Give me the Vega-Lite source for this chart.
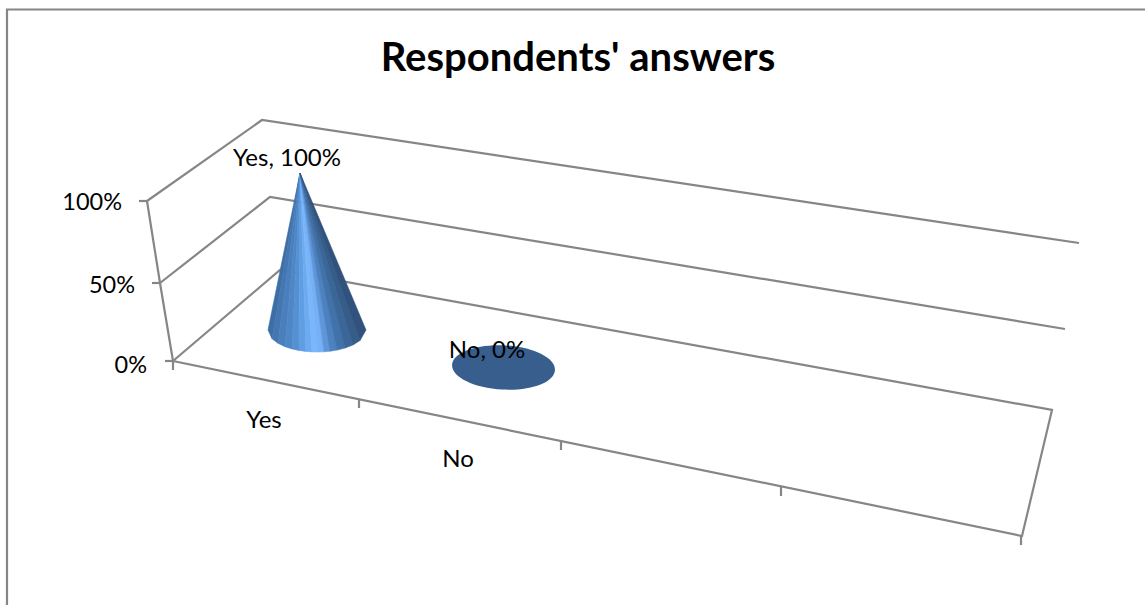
{
"$schema":"https://vega.github.io/schema/vega-lite/v6.json",
"width":1145,"height":605,"padding":0,
"autosize":"none",
"background":"#ffffff",
"config":{"view":{"stroke":null},"font":"Lato"},
"datasets":{
"frame":[
{"seg":"border","sx":7,"sy":605,"o":1},{"seg":"border","sx":7,"sy":9.5,"o":2},{"seg":"border","sx":1145,"sy":9.5,"o":3},
{"seg":"wall100","sx":147,"sy":201,"o":1},{"seg":"wall100","sx":262,"sy":120,"o":2},{"seg":"wall100","sx":1079,"sy":243,"o":3},
{"seg":"wall50","sx":160,"sy":283,"o":1},{"seg":"wall50","sx":270,"sy":197,"o":2},{"seg":"wall50","sx":1065,"sy":329,"o":3},
{"seg":"floor","sx":173,"sy":361,"o":1},{"seg":"floor","sx":280,"sy":270,"o":2},{"seg":"floor","sx":1052,"sy":410,"o":3},{"seg":"floor","sx":1022,"sy":536,"o":4},{"seg":"floor","sx":173,"sy":361,"o":5},
{"seg":"vaxis","sx":147,"sy":201,"o":1},{"seg":"vaxis","sx":160,"sy":283,"o":2},{"seg":"vaxis","sx":173,"sy":361,"o":3},
{"seg":"t100","sx":139,"sy":201,"o":1},{"seg":"t100","sx":147,"sy":201,"o":2},
{"seg":"t50","sx":152,"sy":283,"o":1},{"seg":"t50","sx":160,"sy":283,"o":2},
{"seg":"t0","sx":165,"sy":361,"o":1},{"seg":"t0","sx":173,"sy":361,"o":2},
{"seg":"c0","sx":173,"sy":361,"o":1},{"seg":"c0","sx":173,"sy":370,"o":2},
{"seg":"c1","sx":359,"sy":399,"o":1},{"seg":"c1","sx":359,"sy":408,"o":2},
{"seg":"c2","sx":561,"sy":441,"o":1},{"seg":"c2","sx":561,"sy":450,"o":2},
{"seg":"c3","sx":781,"sy":487,"o":1},{"seg":"c3","sx":781,"sy":496,"o":2},
{"seg":"c4","sx":1021,"sy":536,"o":1},{"seg":"c4","sx":1021,"sy":545,"o":2}
],
"cone":[
{"s":1,"sx":300,"sy":173,"o":1},{"s":1,"sx":268,"sy":330,"o":2},{"s":1,"sx":272,"sy":338.7,"o":3},
{"s":2,"sx":300,"sy":173,"o":1},{"s":2,"sx":272,"sy":338.7,"o":2},{"s":2,"sx":278,"sy":343.3,"o":3},
{"s":3,"sx":300,"sy":173,"o":1},{"s":3,"sx":278,"sy":343.3,"o":2},{"s":3,"sx":285,"sy":346.7,"o":3},
{"s":4,"sx":300,"sy":173,"o":1},{"s":4,"sx":285,"sy":346.7,"o":2},{"s":4,"sx":292,"sy":348.9,"o":3},
{"s":5,"sx":300,"sy":173,"o":1},{"s":5,"sx":292,"sy":348.9,"o":2},{"s":5,"sx":299,"sy":350.5,"o":3},
{"s":6,"sx":300,"sy":173,"o":1},{"s":6,"sx":299,"sy":350.5,"o":2},{"s":6,"sx":306,"sy":351.4,"o":3},
{"s":7,"sx":300,"sy":173,"o":1},{"s":7,"sx":306,"sy":351.4,"o":2},{"s":7,"sx":312,"sy":351.9,"o":3},
{"s":8,"sx":300,"sy":173,"o":1},{"s":8,"sx":312,"sy":351.9,"o":2},{"s":8,"sx":318,"sy":352,"o":3},
{"s":9,"sx":300,"sy":173,"o":1},{"s":9,"sx":318,"sy":352,"o":2},{"s":9,"sx":324,"sy":351.8,"o":3},
{"s":10,"sx":300,"sy":173,"o":1},{"s":10,"sx":324,"sy":351.8,"o":2},{"s":10,"sx":330,"sy":351.2,"o":3},
{"s":11,"sx":300,"sy":173,"o":1},{"s":11,"sx":330,"sy":351.2,"o":2},{"s":11,"sx":337,"sy":350.1,"o":3},
{"s":12,"sx":300,"sy":173,"o":1},{"s":12,"sx":337,"sy":350.1,"o":2},{"s":12,"sx":345,"sy":348.1,"o":3},
{"s":13,"sx":300,"sy":173,"o":1},{"s":13,"sx":345,"sy":348.1,"o":2},{"s":13,"sx":353,"sy":344.9,"o":3},
{"s":14,"sx":300,"sy":173,"o":1},{"s":14,"sx":353,"sy":344.9,"o":2},{"s":14,"sx":360,"sy":340.5,"o":3},
{"s":15,"sx":300,"sy":173,"o":1},{"s":15,"sx":360,"sy":340.5,"o":2},{"s":15,"sx":366,"sy":330,"o":3}
],
"answers":[
{"answer":"Yes","percent":100,"label":"Yes, 100%","lx":287,"ly":158.5,"cx":264,"cy":420.5},
{"answer":"No","percent":0,"label":"No, 0%","lx":487,"ly":350.5,"cx":458,"cy":459.5}
],
"ticks":[
{"tick":"100%","tx":122,"ty":203},{"tick":"50%","tx":135,"ty":286},{"tick":"0%","tx":147,"ty":366}
],
"disc":[{"answer":"No","percent":0,"sx":503.5,"sy":367.5}],
"title":[{"text":"Respondents' answers","sx":578,"sy":59}]
},
"layer":[
{"data":{"name":"frame"},
 "mark":{"type":"line","stroke":"#868686","strokeWidth":2.2,"strokeJoin":"miter"},
 "encoding":{"x":{"field":"sx","type":"quantitative","scale":{"domain":[0,1145],"nice":false},"axis":null},
 "y":{"field":"sy","type":"quantitative","scale":{"domain":[605,0],"nice":false},"axis":null},
 "detail":{"field":"seg"},"order":{"field":"o"}}},
{"data":{"name":"cone"},
 "mark":{"type":"line","interpolate":"linear-closed","strokeWidth":0.6,"filled":true},
 "encoding":{"x":{"field":"sx","type":"quantitative"},"y":{"field":"sy","type":"quantitative"},
 "detail":{"field":"s"},"order":{"field":"o"},
 "fill":{"field":"s","type":"ordinal","legend":null,"scale":{"domain":[1,2,3,4,5,6,7,8,9,10,11,12,13,14,15],"range":["#3d6ea5","#4476b2","#4a7fbd","#4f86c6","#5490d2","#5f9ee2","#6dabf0","#7ab6fb","#76b0f5","#5f96da","#4d82c0","#4272aa","#3b6698","#365c8a","#30527c"]}},
 "stroke":{"field":"s","type":"ordinal","legend":null,"scale":{"domain":[1,2,3,4,5,6,7,8,9,10,11,12,13,14,15],"range":["#3d6ea5","#4476b2","#4a7fbd","#4f86c6","#5490d2","#5f9ee2","#6dabf0","#7ab6fb","#76b0f5","#5f96da","#4d82c0","#4272aa","#3b6698","#365c8a","#30527c"]}}}},
{"data":{"name":"disc"},
 "mark":{"type":"point","filled":true,"shape":"M-1,0A1,0.43,0,1,1,1,0A1,0.43,0,1,1,-1,0Z","size":10609,"color":"#375e8d","opacity":1,"angle":3},
 "encoding":{"x":{"field":"sx","type":"quantitative"},"y":{"field":"sy","type":"quantitative"}}},
{"data":{"name":"answers"},
 "mark":{"type":"text","fontSize":24,"font":"Lato","color":"#000000","align":"center","baseline":"middle"},
 "encoding":{"x":{"field":"lx","type":"quantitative"},"y":{"field":"ly","type":"quantitative"},"text":{"field":"label"}}},
{"data":{"name":"answers"},
 "mark":{"type":"text","fontSize":24,"font":"Lato","color":"#000000","align":"center","baseline":"middle"},
 "encoding":{"x":{"field":"cx","type":"quantitative"},"y":{"field":"cy","type":"quantitative"},"text":{"field":"answer"}}},
{"data":{"name":"ticks"},
 "mark":{"type":"text","fontSize":23.5,"font":"Lato","color":"#000000","align":"right","baseline":"middle"},
 "encoding":{"x":{"field":"tx","type":"quantitative"},"y":{"field":"ty","type":"quantitative"},"text":{"field":"tick"}}},
{"data":{"name":"title"},
 "mark":{"type":"text","fontSize":40,"font":"Lato","fontWeight":"bold","color":"#000000","align":"center","baseline":"middle"},
 "encoding":{"x":{"field":"sx","type":"quantitative"},"y":{"field":"sy","type":"quantitative"},"text":{"field":"text"}}}
]
}
